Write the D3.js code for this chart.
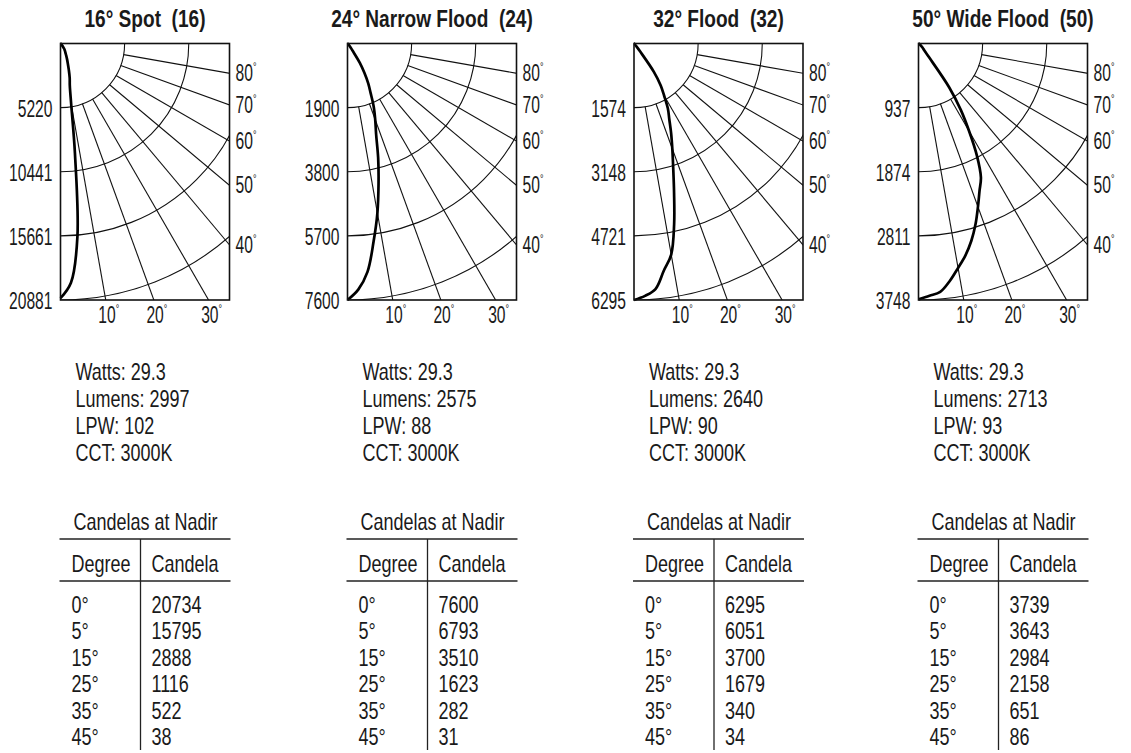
<!DOCTYPE html>
<html><head><meta charset="utf-8">
<script src="https://cdn.jsdelivr.net/npm/d3@7"></script>
<style>
html,body{margin:0;padding:0;background:#fff;}
svg{display:block;}
text{font-family:"Liberation Sans",Arial,sans-serif;fill:#1a1a1a;white-space:pre;}
</style></head><body>
<svg id="c" width="1131" height="753"></svg>
<script>
// ---------- data ----------
const titles = ["16° Spot  (16)", "24° Narrow Flood  (24)", "32° Flood  (32)", "50° Wide Flood  (50)"];
const ringTicks16 = [5220, 10441, 15661, 20881];
const ringTicks24 = [1900, 3800, 5700, 7600];
const ringTicks32 = [1574, 3148, 4721, 6295];
const ringTicks50 = [937, 1874, 2811, 3748];
const gridAngles = [10, 20, 30, 40, 50, 60, 70, 80];

const curveAngles = [0, 2.5, 5, 7.5, 10, 12.5, 15, 17.5, 20, 22.5, 25, 27.5, 30, 32.5, 35, 37.5, 40, 45, 50, 60, 70, 80, 90];
const candela16 = [20734, 19500, 15795, 9000, 5000, 3500, 2888, 2250, 1750, 1400, 1116, 900, 760, 630, 522, 350, 200, 38, 20, 10, 5, 2, 0];
const candela24 = [7600, 7300, 6793, 5920, 5100, 4250, 3510, 2820, 2400, 2030, 1623, 1330, 1000, 680, 282, 150, 80, 31, 15, 8, 4, 2, 0];
const candela32 = [6295, 6200, 6051, 5620, 5260, 4550, 3800, 3200, 2750, 2380, 2050, 1800, 1480, 1220, 850, 250, 100, 34, 15, 8, 4, 2, 0];
const candela50 = [3739, 3690, 3643, 3500, 3330, 3170, 2984, 2770, 2540, 2330, 2158, 1850, 1480, 1150, 780, 250, 130, 86, 40, 15, 8, 3, 0];

const watts = ["29.3", "29.3", "29.3", "29.3"];
const lumens = [2997, 2575, 2640, 2713];
const lpw = [102, 88, 90, 93];
const cct = ["3000K", "3000K", "3000K", "3000K"];

const nadirDegrees = ["0°", "5°", "15°", "25°", "35°", "45°"];
const nadir16 = [20734, 15795, 2888, 1116, 522, 38];
const nadir24 = [7600, 6793, 3510, 1623, 282, 31];
const nadir32 = [6295, 6051, 3700, 1679, 340, 34];
const nadir50 = [3739, 3643, 2984, 2158, 651, 86];

// ---------- layout ----------
const panels = [
  {title: titles[0], ticks: ringTicks16, cd: candela16, nadir: nadir16},
  {title: titles[1], ticks: ringTicks24, cd: candela24, nadir: nadir24},
  {title: titles[2], ticks: ringTicks32, cd: candela32, nadir: nadir32},
  {title: titles[3], ticks: ringTicks50, cd: candela50, nadir: nadir50}
];
const panelX = [60.5, 347.5, 634, 918.5];
const boxTop = 43.5, W = 169, H = 256.5;
const rad = d => d * Math.PI / 180;

// condensed text helper
function T(parent, x, y, str, o) {
  const t = parent.append("text")
    .attr("transform", `translate(${x},${y}) scale(${o.sx},1)`)
    .attr("font-size", o.size)
    .attr("text-anchor", o.anchor || "start");
  if (o.weight) t.attr("font-weight", o.weight);
  if (o.mid) t.attr("dominant-baseline", "central");
  if (str !== null) t.text(str);
  return t;
}
const LBL = {size: 23, sx: 0.68};
const BODY = {size: 24, sx: 0.75};

const svg = d3.select("#c");
const defs = svg.append("defs");

panels.forEach((p, i) => {
  const x0 = panelX[i];
  const g = svg.append("g").attr("transform", `translate(${x0},${boxTop})`);
  const maxV = p.ticks[p.ticks.length - 1];
  const r = d3.scaleLinear().domain([0, maxV]).range([0, H]);

  defs.append("clipPath").attr("id", "clip" + i)
    .append("rect").attr("x", 0).attr("y", 0).attr("width", W).attr("height", H);

  const grid = g.append("g").attr("clip-path", `url(#clip${i})`)
    .attr("fill", "none").attr("stroke", "#111").attr("stroke-width", 1.1);

  // arcs
  p.ticks.forEach(t => {
    const pa = d3.path();
    pa.arc(0, 0, r(t), 0, Math.PI / 2);
    grid.append("path").attr("d", pa.toString());
  });
  // radial lines
  const r0 = r(p.ticks[0]);
  gridAngles.forEach(a => {
    const s = Math.sin(rad(a)), c = Math.cos(rad(a));
    grid.append("line")
      .attr("x1", r0 * s).attr("y1", r0 * c)
      .attr("x2", 3 * H * s).attr("y2", 3 * H * c);
  });

  // curve
  const line = d3.lineRadial()
    .angle(d => Math.PI - rad(d[0]))
    .radius(d => r(d[1]))
    .curve(d3.curveCatmullRom.alpha(0.5));
  g.append("path")
    .datum(curveAngles.map((a, k) => [a, p.cd[k]]))
    .attr("d", line)
    .attr("fill", "none").attr("stroke", "#000").attr("stroke-width", 2.7)
    .attr("stroke-linejoin", "round");

  // box
  g.append("rect").attr("x", 0).attr("y", 0).attr("width", W).attr("height", H)
    .attr("fill", "none").attr("stroke", "#111").attr("stroke-width", 1.6);

  // left ring labels
  p.ticks.forEach(t => {
    T(g, -8, r(t) + 1, d3.format("d")(t), {...LBL, anchor: "end", mid: true});
  });

  // angle labels
  gridAngles.forEach(a => {
    const tn = Math.tan(rad(a));
    let t;
    if (H * tn <= W) {
      t = T(g, H * tn + 3, H + 23, null, {...LBL, anchor: "middle"});
    } else {
      t = T(g, W + 6, W / tn + 8, null, {...LBL, anchor: "start"});
    }
    t.append("tspan").text(a);
    t.append("tspan").attr("font-size", 13).attr("dy", -10).text("°");
  });

  // title
  T(svg, x0 + W / 2, 27, p.title, {size: 23, sx: 0.83, anchor: "middle", weight: "bold"});

  // specs
  const specs = [`Watts: ${watts[i]}`, `Lumens: ${lumens[i]}`, `LPW: ${lpw[i]}`, `CCT: ${cct[i]}`];
  specs.forEach((s, k) => T(svg, x0 + 15, 380 + k * 27, s, BODY));

  // table
  const tg = svg.append("g").attr("transform", `translate(${x0},0)`);
  T(tg, 13, 530, "Candelas at Nadir", BODY);
  tg.append("line").attr("x1", -1).attr("x2", 170).attr("y1", 539).attr("y2", 539)
    .attr("stroke", "#222").attr("stroke-width", 1.3);
  tg.append("line").attr("x1", -1).attr("x2", 170).attr("y1", 581).attr("y2", 581)
    .attr("stroke", "#222").attr("stroke-width", 1.3);
  tg.append("line").attr("x1", 80).attr("x2", 80).attr("y1", 539).attr("y2", 750)
    .attr("stroke", "#222").attr("stroke-width", 1.3);
  T(tg, 11, 572, "Degree", BODY);
  T(tg, 91, 572, "Candela", BODY);
  const rowY = d3.scaleLinear().domain([0, nadirDegrees.length - 1]).range([613, 745]);
  nadirDegrees.forEach((d, k) => {
    T(tg, 11, rowY(k), d, BODY);
    T(tg, 91, rowY(k), String(p.nadir[k]), BODY);
  });
});
</script>
</body></html>
